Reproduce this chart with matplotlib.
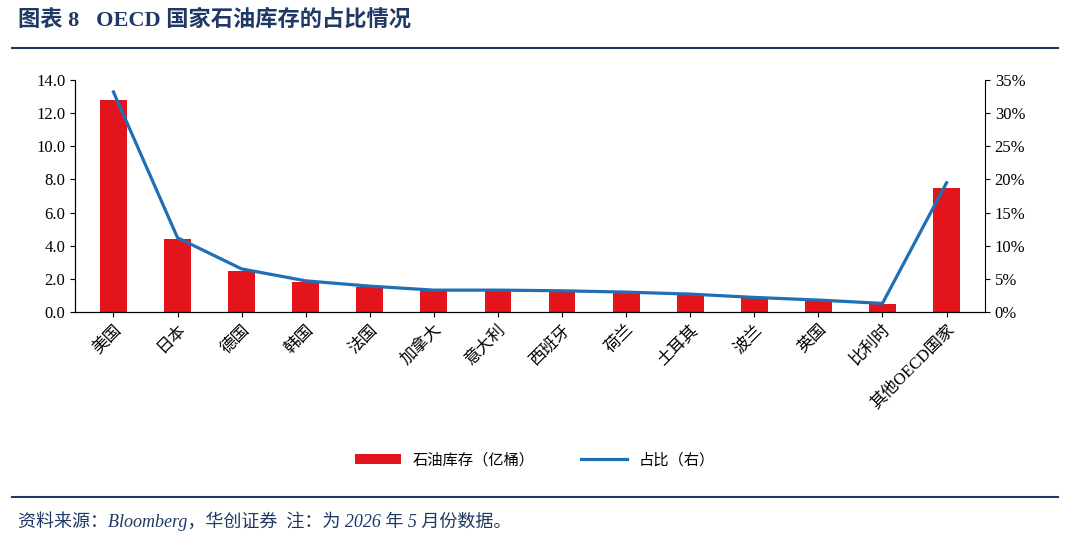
import matplotlib
matplotlib.use("Agg")
import matplotlib.pyplot as plt
import numpy as np

plt.rcParams['font.family'] = ['Liberation Serif', 'Noto Sans CJK SC', 'DejaVu Sans']

categories = ['美国','日本','德国','韩国','法国','加拿大','意大利','西班牙','荷兰','土耳其','波兰','英国','比利时','其他OECD国家']
stock = [12.8, 4.4, 2.5, 1.8, 1.5, 1.3, 1.3, 1.3, 1.2, 1.05, 0.85, 0.7, 0.5, 7.5]
share = [33.2, 11.2, 6.5, 4.7, 3.9, 3.3, 3.3, 3.2, 3.0, 2.7, 2.2, 1.8, 1.3, 19.5]

W, H = 1080, 539
fig = plt.figure(figsize=(W/100, H/100), dpi=100)
navy = '#1f3864'
fig.text(18/W, 1-20/H, '图表 8   OECD 国家石油库存的占比情况', fontsize=16, fontweight='bold', color=navy, va='center')
fig.add_artist(plt.Line2D([12/W, 1058/W], [1-48/H, 1-48/H], color=navy, lw=1.5))
fig.add_artist(plt.Line2D([12/W, 1058/W], [1-497/H, 1-497/H], color=navy, lw=1.5))
fig.text(18/W, 1-521/H, '资料来源：Bloomberg，华创证券  注：为 2026 年 5 月份数据。', fontsize=13, style='italic', color=navy, va='center')

ax = fig.add_axes([75/W, 1-312/H, 910/W, 232/H])
x = np.arange(len(categories))
ax.bar(x, stock, width=0.42, color='#e3141c', label='石油库存（亿桶）')
ax.set_ylim(0, 14)
ax.set_yticks(np.arange(0, 14.1, 2))
ax.set_yticklabels([f'{v:.1f}' for v in np.arange(0, 14.1, 2)])
ax.set_xlim(-0.6, len(categories)-0.4)
ax.set_xticks(x)
ax.set_xticklabels(categories, rotation=45, ha='right', rotation_mode='anchor', fontsize=12)
ax2 = ax.twinx()
ax2.plot(x, share, color='#1f6fb5', lw=2.3, label='占比（右）')
ax2.set_ylim(0, 35)
ax2.set_yticks(np.arange(0, 36, 5))
ax2.set_yticklabels([f'{v}%' for v in range(0, 36, 5)])
for a in (ax, ax2):
    a.spines['top'].set_visible(False)
    a.tick_params(labelsize=12, direction='out')
ax.spines['right'].set_visible(False)
h1, l1 = ax.get_legend_handles_labels()
h2, l2 = ax2.get_legend_handles_labels()
fig.legend(h1+h2, l1+l2, loc='center', bbox_to_anchor=(535/W, 1-460/H), ncol=2, frameon=False, fontsize=11, columnspacing=3, handlelength=3)
fig.savefig('out.png', dpi=100)
